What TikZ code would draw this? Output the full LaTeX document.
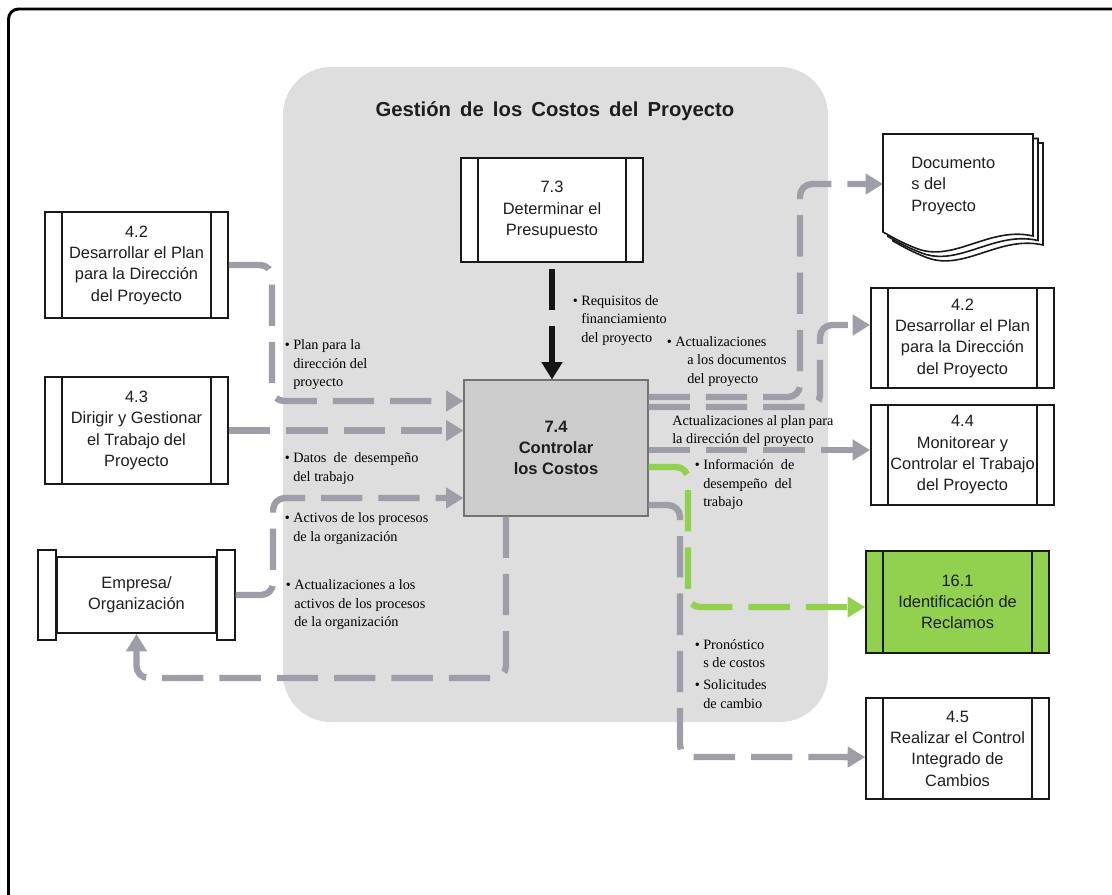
\documentclass[tikz,border=0pt]{standalone}
\usepackage{fontspec}
\setmainfont{Liberation Serif}
\setsansfont{Liberation Sans}
\usetikzlibrary{arrows.meta,calc}

\definecolor{flowgray}{RGB}{158,158,168}
\definecolor{regiongray}{RGB}{222,222,222}
\definecolor{claimgreen}{RGB}{146,208,80}
\definecolor{ctrlgray}{RGB}{204,204,204}
\definecolor{inktext}{RGB}{30,30,30}

\tikzset{
  boxline/.style={draw=black!90, line width=1.4pt},
  proc/.style={boxline, fill=white, inner sep=0pt, align=center, text=inktext,
    font=\sffamily\fontsize{12.3}{16}\selectfont,
    path picture={
      \draw[line width=1.4pt]
        ([xshift=12.75pt]path picture bounding box.north west) --
        ([xshift=12.75pt]path picture bounding box.south west);
      \draw[line width=1.4pt]
        ([xshift=-12.75pt]path picture bounding box.north east) --
        ([xshift=-12.75pt]path picture bounding box.south east);
    }},
  flowline/.style={line width=4.8pt, dash pattern=on 31pt off 12pt,
    rounded corners=9pt, -{Triangle[length=13pt,width=15pt]}},
  flow/.style={flowline, draw=flowgray},
  greenflow/.style={flowline, draw=claimgreen},
  fundflow/.style={flowline, draw=black!92},
  lbl/.style={inner sep=0pt, anchor=west, align=left, text=black,
    font=\fontsize{10.7}{13.9}\selectfont},
}
\newcommand{\bul}{\llap{\textbullet\hspace{2.5pt}}}

\begin{document}
\begin{tikzpicture}[x=0.75pt,y=-0.75pt]
\useasboundingbox (0,0) rectangle (1112,894);

% outer frame, open towards the right and bottom edges
\begin{scope}
  \clip (0,0) rectangle (1112,894);
  \draw[line width=2.2pt, rounded corners=7.5pt] (8.5,9) rectangle (1140,904);
\end{scope}

% cost management area
\fill[regiongray, rounded corners=36pt] (283,67) rectangle (828,722);
\node[font=\sffamily\bfseries\fontsize{15.2}{18}\selectfont, text=inktext] (title)
  at (555,111) {Gestión\hspace{0.45em}de\hspace{0.45em}los\hspace{0.45em}Costos\hspace{0.45em}del\hspace{0.45em}Proyecto};

% processes
\node[proc, minimum width=136.5pt, minimum height=78pt] (p73) at (552,210)
  {7.3\\Determinar el\\Presupuesto};
\node[proc, minimum width=137.25pt, minimum height=79.5pt] (p42L) at (136.5,265)
  {4.2\\Desarrollar el Plan\\para la Dirección\\del Proyecto};
\node[proc, minimum width=137.25pt, minimum height=80.25pt] (p43) at (136.5,430.5)
  {4.3\\Dirigir y Gestionar\\el Trabajo del\\Proyecto};
\node[proc, minimum width=137.25pt, minimum height=75pt] (p42R) at (962.5,338)
  {4.2\\Desarrollar el Plan\\para la Dirección\\del Proyecto};
\node[proc, minimum width=137.25pt, minimum height=75pt] (p44) at (962.5,455)
  {4.4\\Monitorear y\\Controlar el Trabajo\\del Proyecto};
\node[proc, fill=claimgreen, minimum width=137.25pt, minimum height=76.5pt] (p161) at (957.5,602)
  {16.1\\Identificación de\\Reclamos};
\node[proc, minimum width=137.25pt, minimum height=75.75pt] (p45) at (957.5,748.5)
  {4.5\\Realizar el Control\\Integrado de\\Cambios};

% cost control process
\node[draw=black!55, line width=0.8pt, fill=ctrlgray, minimum width=138pt, minimum height=102pt,
  inner sep=0pt, align=center, text=inktext,
  font=\sffamily\bfseries\fontsize{12.4}{15.8}\selectfont] (p74) at (556,448)
  {7.4\\Controlar\\los Costos};

% enterprise / organization
\node[boxline, fill=white, inner sep=0pt, minimum width=119.25pt, minimum height=57pt,
  align=center, text=inktext, font=\sffamily\fontsize{12.3}{16}\selectfont] (emp)
  at (136.5,595) {Empresa/\\Organización};
\draw[boxline, fill=white] ($(emp.north west)+(-18.4,-6)$) rectangle ($(emp.south west)+(0,6)$);
\draw[boxline, fill=white] ($(emp.north east)+(0,-6)$) rectangle ($(emp.south east)+(18.4,6)$);

% project documents (stacked pages)
\foreach \d in {10,5,0}{
  \draw[line width=1.2pt, draw=black!90, fill=white, shift={(\d,0.9*\d)}]
    (883,134) -- (1033,134) -- (1033,236)
    .. controls (990,226) and (955,262) .. (918,249)
    .. controls (902,243) and (892,237) .. (883,232) -- cycle;
}
\node[inner sep=0pt, anchor=west, align=left, text=inktext,
  font=\sffamily\fontsize{12.3}{16}\selectfont] (docs) at (911,186)
  {Documento\\s del\\Proyecto};
\coordinate (docsin) at (883,184);

% connectors
\draw[flow] (p42L.east) -| (272,401) -- ([yshift=35.25pt]p74.west);
\draw[flow] (p43.east) -- (p43.east -| p74.west);
\draw[flow] ([xshift=13.95pt]emp.east) -| (273,498) -- ([yshift=-37.5pt]p74.west);
\draw[flow] ([xshift=-37.5pt]p74.south) |- ([yshift=-33pt]emp.south) -- (emp.south);
\draw[fundflow] ([yshift=-4.5pt]p73.south) -- (p73.south |- p74.north);
\draw[flow] ([yshift=38.25pt]p74.east) -| (800,184) -- (docsin);
\draw[flow] ([yshift=30.75pt]p74.east) -| (820,325) -- ([yshift=9.75pt]p42R.west);
\draw[flow] ([yshift=-1.5pt]p74.east) -- ([yshift=3.75pt]p44.west);
\draw[greenflow] ([yshift=-14.25pt]p74.east) -| (688,607) -- ([yshift=-3.75pt]p161.west);
\draw[flow] ([yshift=-42.75pt]p74.east) -| (680,757) -- ([yshift=-6.4pt]p45.west);

% connector labels
\node[lbl] (l1) at (581,320.5) {\bul Requisitos de\\financiamiento\\del proyecto};
\node[lbl] (l2) at (293,365) {\bul Plan para la\\dirección del\\proyecto};
\node[lbl] (l3) at (293,468.5) {\bul Datos\ \ de\ \ desempeño\\del trabajo};
\node[lbl] (l4) at (293,528.5) {\bul Activos de los procesos\\de la organización};
\node[lbl] (l5) at (294,605) {\bul Actualizaciones a los\\activos de los procesos\\de la organización};
\node[lbl] (l6) at (675,361.5) {\bul Actualizaciones\\\hspace*{9pt}a los documentos\\\hspace*{9pt}del proyecto};
\node[lbl] (l7) at (672,431) {Actualizaciones al plan para\\la dirección del proyecto};
\node[lbl] (l8) at (703,484.5) {\bul Información\ \ de\\desempeño\ \ del\\trabajo};
\node[lbl] (l9) at (703,653.5) {\bul Pronóstico\\s de costos};
\node[lbl] (l10) at (703,694) {\bul Solicitudes\\de cambio};
\end{tikzpicture}
\end{document}
